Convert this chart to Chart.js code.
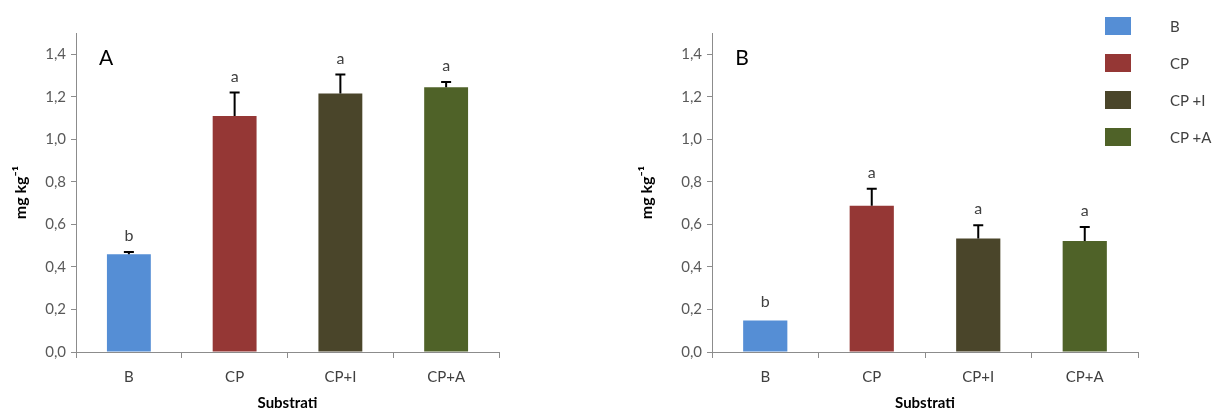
<!DOCTYPE html>
<html>
<head>
<meta charset="utf-8">
<script src="https://cdn.jsdelivr.net/npm/chart.js@4.4.1/dist/chart.umd.min.js"></script>
<style>
  body { margin: 0; background: #fff; width: 1214px; height: 412px; overflow: hidden; font-family: Lato, sans-serif; }
  .box { position: absolute; top: 0; height: 412px; }
  #legend { position: absolute; left: 1105px; top: 7px; }
  #legend .item { display: flex; align-items: center; height: 37px; }
  #legend .sw { width: 26px; height: 18px; margin-right: 39px; }
  #legend .lbl { font-size: 15px; color: #404040; }
</style>
</head>
<body>
<div class="box" style="left:0;width:540px"><canvas id="chartA"></canvas></div>
<div class="box" style="left:626px;width:588px"><canvas id="chartB"></canvas></div>
<div id="legend"></div>
<script>
const categories = ['B', 'CP', 'CP+I', 'CP+A'];
const legendLabels = ['B', 'CP', 'CP +I', 'CP +A'];
const barColors = ['#558ED5', '#953735', '#4A452A', '#4F6228'];

const valuesA = [0.46, 1.11, 1.215, 1.245];
const errorsA = [0.01, 0.11, 0.09, 0.025];
const lettersA = ['b', 'a', 'a', 'a'];

const valuesB = [0.148, 0.688, 0.534, 0.522];
const errorsB = [0, 0.08, 0.062, 0.066];
const lettersB = ['b', 'a', 'a', 'a'];

const yTicks = [0, 0.2, 0.4, 0.6, 0.8, 1.0, 1.2, 1.4];

// error bars, significance letters and panel letter
const annot = {
    id: 'annot',
    afterDatasetsDraw(chart, args, opts) {
        const { ctx, scales: { x, y }, chartArea } = chart;
        const vals = chart.data.datasets[0].data;
        ctx.save();
        ctx.strokeStyle = '#000';
        ctx.lineWidth = 2;
        vals.forEach((v, i) => {
            const px = x.getPixelForValue(i);
            const base = y.getPixelForValue(v);
            const cap = y.getPixelForValue(v + opts.err[i]);
            if (opts.err[i] > 0) {
                ctx.beginPath();
                ctx.moveTo(px, base);
                ctx.lineTo(px, cap);
                ctx.moveTo(px - 5, cap);
                ctx.lineTo(px + 5, cap);
                ctx.stroke();
            }
            ctx.fillStyle = '#404040';
            ctx.font = '16px Lato';
            ctx.textAlign = 'center';
            ctx.textBaseline = 'middle';
            ctx.fillText(opts.letters[i], px, cap - (opts.err[i] > 0 ? 16 : 19));
        });
        ctx.fillStyle = '#000';
        ctx.font = '21px Lato';
        ctx.textAlign = 'center';
        ctx.textBaseline = 'middle';
        ctx.fillText(opts.panel, chartArea.left + 30, chartArea.top + 25);
        ctx.restore();
    }
};

function makeChart(id, values, errors, letters, panel, yWidth, rightPad) {
    return new Chart(document.getElementById(id).getContext('2d'), {
        type: 'bar',
        data: {
            labels: categories,
            datasets: [{
                data: values,
                backgroundColor: barColors,
                borderWidth: 0,
                barPercentage: 0.415,
                categoryPercentage: 1
            }]
        },
        options: {
            responsive: true,
            maintainAspectRatio: false,
            animation: false,
            layout: { padding: { top: 33, right: rightPad, left: 0, bottom: 0 } },
            plugins: {
                legend: { display: false },
                tooltip: { enabled: false },
                annot: { err: errors, letters: letters, panel: panel }
            },
            scales: {
                x: {
                    afterFit: s => { s.height = 60; },
                    grid: { drawOnChartArea: false, tickLength: 6, color: '#8C8C8C' },
                    border: { color: '#8C8C8C' },
                    ticks: { padding: 10, color: '#404040', font: { family: 'Lato', size: 15 } },
                    title: { display: true, text: 'Substrati', color: '#000', padding: { top: 0, bottom: 0 },
                             font: { family: 'Lato', size: 15, weight: 'bold' } }
                },
                y: {
                    min: 0,
                    max: 1.5,
                    afterFit: s => { s.width = yWidth; },
                    afterBuildTicks: s => { s.ticks = yTicks.map(v => ({ value: v })); },
                    grid: { drawOnChartArea: false, tickLength: 5, color: '#8C8C8C' },
                    border: { color: '#8C8C8C' },
                    ticks: {
                        padding: 5, color: '#595959', font: { family: 'Lato', size: 15 },
                        callback: v => v.toFixed(1).replace('.', ',')
                    },
                    title: { display: true, text: 'mg kg\u207B\u00B9', color: '#000', padding: { top: 11, bottom: 0 },
                             font: { family: 'Lato', size: 16, weight: 'bold' } }
                }
            }
        },
        plugins: [annot]
    });
}

const chartA = makeChart('chartA', valuesA, errorsA, lettersA, 'A', 76, 41);
const chartB = makeChart('chartB', valuesB, errorsB, lettersB, 'B', 86, 76);

// legend: one swatch per category
const legendEl = document.getElementById('legend');
legendLabels.forEach((txt, i) => {
    const item = document.createElement('div');
    item.className = 'item';
    const sw = document.createElement('span');
    sw.className = 'sw';
    sw.style.background = barColors[i];
    const lbl = document.createElement('span');
    lbl.className = 'lbl';
    lbl.textContent = txt;
    item.appendChild(sw);
    item.appendChild(lbl);
    legendEl.appendChild(item);
});
</script>
</body>
</html>
